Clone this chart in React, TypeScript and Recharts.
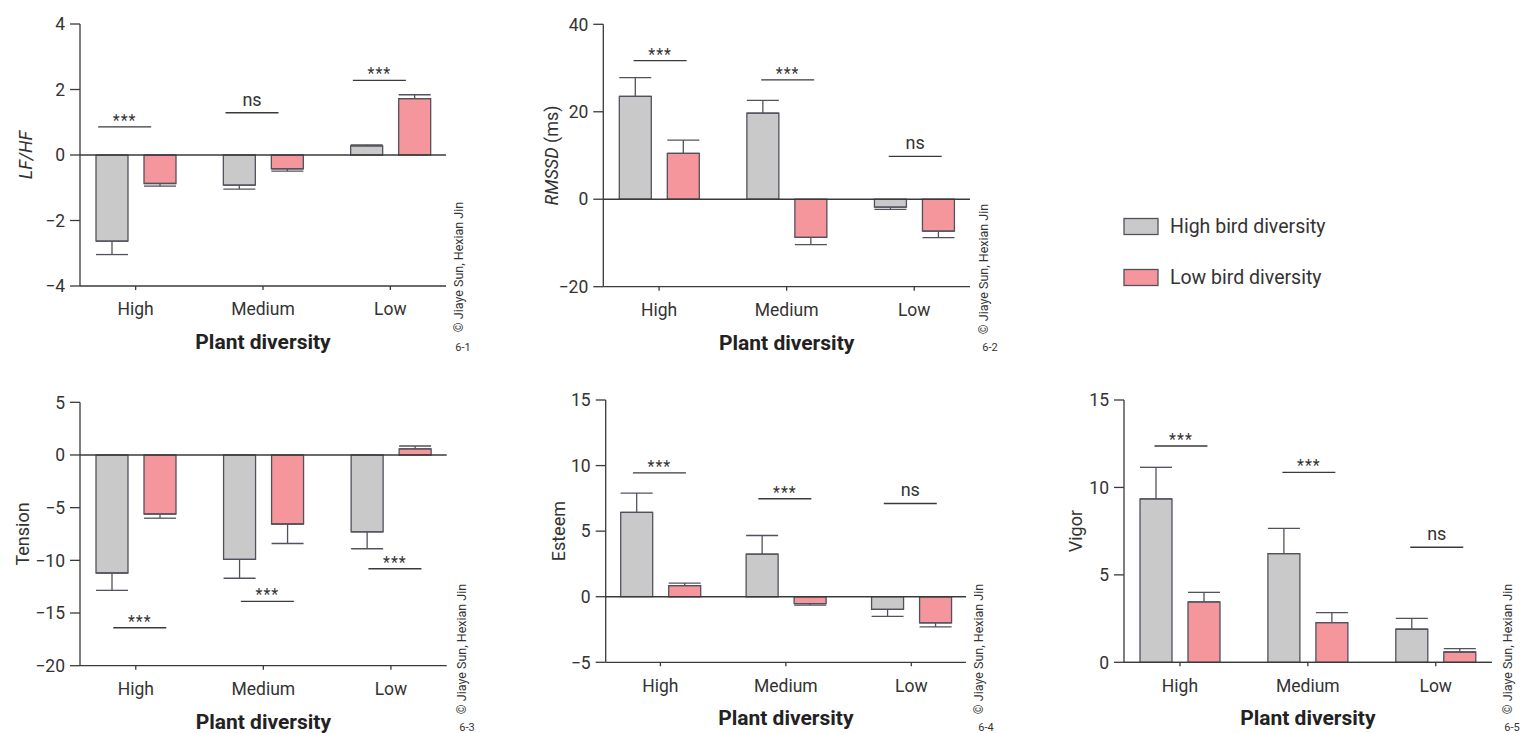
import React from 'react';
import { ComposedChart, Bar, XAxis, YAxis, ErrorBar, ReferenceLine, Scatter } from 'recharts';

const categories = ['High', 'Medium', 'Low'];
const seriesNames = ['High bird diversity', 'Low bird diversity'];

// 6-1 LF/HF
const lfhfHigh = [-2.63, -0.92, 0.28];
const lfhfHighErr = [0.41, 0.12, 0.03];
const lfhfLow = [-0.87, -0.42, 1.72];
const lfhfLowErr = [0.08, 0.07, 0.12];
const lfhfSig = [0.86, 1.29, 2.28];
const lfhfSigLabel = ['***', 'ns', '***'];
const lfhfTicks = [-4, -2, 0, 2, 4];

// 6-2 RMSSD
const rmssdHigh = [23.5, 19.7, -1.8];
const rmssdHighErr = [4.3, 2.9, 0.5];
const rmssdLow = [10.5, -8.7, -7.3];
const rmssdLowErr = [3.0, 1.7, 1.5];
const rmssdSig = [31.7, 27.3, 9.8];
const rmssdSigLabel = ['***', '***', 'ns'];
const rmssdTicks = [-20, 0, 20, 40];

// 6-3 Tension
const tensionHigh = [-11.2, -9.9, -7.3];
const tensionHighErr = [1.65, 1.8, 1.6];
const tensionLow = [-5.6, -6.55, 0.57];
const tensionLowErr = [0.4, 1.85, 0.28];
const tensionSig = [-16.4, -13.9, -10.8];
const tensionSigLabel = ['***', '***', '***'];
const tensionTicks = [-20, -15, -10, -5, 0, 5];

// 6-4 Esteem
const esteemHigh = [6.43, 3.25, -0.97];
const esteemHighErr = [1.47, 1.42, 0.53];
const esteemLow = [0.84, -0.53, -2.0];
const esteemLowErr = [0.2, 0.11, 0.3];
const esteemSig = [9.45, 7.47, 7.11];
const esteemSigLabel = ['***', '***', 'ns'];
const esteemTicks = [-5, 0, 5, 10, 15];

// 6-5 Vigor
const vigorHigh = [9.34, 6.21, 1.89];
const vigorHighErr = [1.81, 1.45, 0.62];
const vigorLow = [3.45, 2.27, 0.59];
const vigorLowErr = [0.55, 0.57, 0.19];
const vigorSig = [12.37, 10.86, 6.58];
const vigorSigLabel = ['***', '***', 'ns'];
const vigorTicks = [0, 5, 10, 15];

const GRAY = '#c9c9c9';
const PINK = '#f4969b';
const EDGE = '#52525e';
const AXIS = '#3a3a3a';
const TEXT = '#333';
const FONT = 'Roboto, "DejaVu Sans", sans-serif';

const build = (high: number[], highErr: number[], low: number[], lowErr: number[], sig: number[], sigLabel: string[]) =>
  categories.map((name, i) => ({
    name,
    high: high[i],
    highErr: highErr[i],
    low: low[i],
    lowErr: lowErr[i],
    sig: sig[i],
    sigLabel: sigLabel[i],
  }));

// one-sided error bars pointing away from zero
const errHigh = (d: any) => (d.high < 0 ? [d.highErr, 0] : [0, d.highErr]);
const errLow = (d: any) => (d.low < 0 ? [d.lowErr, 0] : [0, d.lowErr]);

const minus = (v: number) => String(v).replace('-', '\u2212');

function SigMark(props: any) {
  const { cx, cy, payload, shift } = props;
  const x = cx + shift;
  const isNs = payload.sigLabel === 'ns';
  return (
    <g>
      <line x1={x - 26.5} x2={x + 26.5} y1={cy} y2={cy} stroke={AXIS} strokeWidth={1.3} />
      <text
        x={x}
        y={isNs ? cy - 7 : cy - 1}
        textAnchor="middle"
        fill={TEXT}
        fontSize={isNs ? 18 : 16}
        letterSpacing={isNs ? 0 : 1}
        fontFamily={FONT}
      >
        {payload.sigLabel}
      </text>
    </g>
  );
}

type PanelProps = {
  id: string;
  left: number;
  top: number;
  width: number;
  height: number;
  plot: { x0: number; y0: number; x1: number; y1: number };
  data: any[];
  ticks: number[];
  yLabel: React.ReactNode;
  sigShift: number;
  mark: { x: number; y: number; tagX: number; tagY: number };
};

function Panel({ id, left, top, width, height, plot, data, ticks, yLabel, sigShift, mark }: PanelProps) {
  const yAxisWidth = 60;
  const xAxisHeight = 70;
  const margin = {
    top: plot.y0 - top,
    right: left + width - plot.x1,
    bottom: top + height - plot.y1 - xAxisHeight,
    left: plot.x0 - left - yAxisWidth,
  };
  const lx = plot.x0 - left;
  const ly = plot.y0 - top;
  const pw = plot.x1 - plot.x0;
  const ph = plot.y1 - plot.y0;
  return (
    <div style={{ position: 'absolute', left, top, width, height }}>
      <ComposedChart width={width} height={height} data={data} margin={margin} barGap={16}>
        <XAxis
          dataKey="name"
          interval={0}
          height={xAxisHeight}
          padding={{ left: -8, right: -8 }}
          tickSize={4}
          tickMargin={13}
          axisLine={{ stroke: AXIS, strokeWidth: 1.3 }}
          tickLine={{ stroke: AXIS, strokeWidth: 1.3 }}
          tick={{ fill: TEXT, fontSize: 17.5, fontFamily: FONT }}
        />
        <YAxis
          width={yAxisWidth}
          domain={[ticks[0], ticks[ticks.length - 1]]}
          ticks={ticks}
          interval={0}
          tickSize={10}
          tickMargin={5}
          tickFormatter={minus}
          axisLine={{ stroke: AXIS, strokeWidth: 1.3 }}
          tickLine={{ stroke: AXIS, strokeWidth: 1.3 }}
          tick={{ fill: TEXT, fontSize: 17.5, fontFamily: FONT }}
        />
        <Bar dataKey="high" name={seriesNames[0]} fill={GRAY} stroke={EDGE} strokeWidth={1.3} barSize={32} isAnimationActive={false}>
          <ErrorBar dataKey={errHigh} width={16} stroke={EDGE} strokeWidth={1.3} direction="y" />
        </Bar>
        <Bar dataKey="low" name={seriesNames[1]} fill={PINK} stroke={EDGE} strokeWidth={1.3} barSize={32} isAnimationActive={false}>
          <ErrorBar dataKey={errLow} width={16} stroke={EDGE} strokeWidth={1.3} direction="y" />
        </Bar>
        <ReferenceLine y={0} stroke={AXIS} strokeWidth={1.3} />
        <Scatter
          dataKey="sig"
          isAnimationActive={false}
          shape={(p: any) => <SigMark {...p} shift={sigShift} />}
        />
      </ComposedChart>
      <svg
        width={width}
        height={height}
        style={{ position: 'absolute', left: 0, top: 0, pointerEvents: 'none', overflow: 'visible' }}
      >
        <text
          transform={`translate(${lx - yLabelGap[id]}, ${ly + ph / 2}) rotate(-90)`}
          textAnchor="middle"
          dominantBaseline="central"
          fill={TEXT}
          fontSize={18}
          fontFamily={FONT}
        >
          {yLabel}
        </text>
        <text x={lx + pw / 2} y={ly + ph + 63} textAnchor="middle" fill="#222" fontSize={21} fontWeight={700} fontFamily={FONT}>
          Plant diversity
        </text>
        <text
          transform={`translate(${mark.x - left}, ${mark.y - top}) rotate(-90)`}
          textAnchor="middle"
          dominantBaseline="central"
          fill={TEXT}
          fontSize={12.5}
          fontFamily={FONT}
        >
          © Jiaye Sun, Hexian Jin
        </text>
        <text x={mark.tagX - left} y={mark.tagY - top} textAnchor="middle" dominantBaseline="central" fill={TEXT} fontSize={11} fontFamily={FONT}>
          {id}
        </text>
      </svg>
    </div>
  );
}

const yLabelGap: Record<string, number> = { '6-1': 55, '6-2': 52, '6-3': 58, '6-4': 47, '6-5': 49 };

function Legend() {
  const fills = [GRAY, PINK];
  return (
    <svg width={260} height={100} style={{ position: 'absolute', left: 1110, top: 200 }}>
      {seriesNames.map((n, i) => (
        <g key={n}>
          <rect x={14} y={18.5 + i * 51} width={34} height={16} fill={fills[i]} stroke={EDGE} strokeWidth={1.3} />
          <text x={60} y={26.5 + i * 51} dominantBaseline="central" fill={TEXT} fontSize={19.5} fontFamily={FONT}>
            {n}
          </text>
        </g>
      ))}
    </svg>
  );
}

export default function App() {
  return (
    <div style={{ position: 'absolute', left: 0, top: 0, width: 1521, height: 733, background: '#fff', fontFamily: FONT, overflow: 'hidden' }}>
      <Panel
        id="6-1"
        left={0}
        top={0}
        width={470}
        height={360}
        plot={{ x0: 80, y0: 24, x1: 446, y1: 286 }}
        data={build(lfhfHigh, lfhfHighErr, lfhfLow, lfhfLowErr, lfhfSig, lfhfSigLabel)}
        ticks={lfhfTicks}
        yLabel={<tspan fontStyle="italic">LF/HF</tspan>}
        sigShift={-11}
        mark={{ x: 458, y: 267, tagX: 463, tagY: 347 }}
      />
      <Panel
        id="6-2"
        left={520}
        top={0}
        width={480}
        height={360}
        plot={{ x0: 603.3, y0: 24.3, x1: 970, y1: 286.7 }}
        data={build(rmssdHigh, rmssdHighErr, rmssdLow, rmssdLowErr, rmssdSig, rmssdSigLabel)}
        ticks={rmssdTicks}
        yLabel={
          <>
            <tspan fontStyle="italic">RMSSD</tspan>
            <tspan> (ms)</tspan>
          </>
        }
        sigShift={1}
        mark={{ x: 983, y: 269, tagX: 990, tagY: 347 }}
      />
      <Panel
        id="6-3"
        left={0}
        top={380}
        width={480}
        height={353}
        plot={{ x0: 80, y0: 402.3, x1: 446.7, y1: 665.7 }}
        data={build(tensionHigh, tensionHighErr, tensionLow, tensionLowErr, tensionSig, tensionSigLabel)}
        ticks={tensionTicks}
        yLabel="Tension"
        sigShift={4}
        mark={{ x: 461.5, y: 649, tagX: 467, tagY: 727 }}
      />
      <Panel
        id="6-4"
        left={540}
        top={380}
        width={470}
        height={353}
        plot={{ x0: 605.7, y0: 400, x1: 966, y1: 662.3 }}
        data={build(esteemHigh, esteemHighErr, esteemLow, esteemLowErr, esteemSig, esteemSigLabel)}
        ticks={esteemTicks}
        yLabel="Esteem"
        sigShift={-1}
        mark={{ x: 978, y: 649, tagX: 986, tagY: 727 }}
      />
      <Panel
        id="6-5"
        left={1060}
        top={380}
        width={461}
        height={353}
        plot={{ x0: 1124, y0: 400, x1: 1491.7, y1: 662.3 }}
        data={build(vigorHigh, vigorHighErr, vigorLow, vigorLowErr, vigorSig, vigorSigLabel)}
        ticks={vigorTicks}
        yLabel="Vigor"
        sigShift={1}
        mark={{ x: 1507, y: 649, tagX: 1512, tagY: 727 }}
      />
      <Legend />
    </div>
  );
}
